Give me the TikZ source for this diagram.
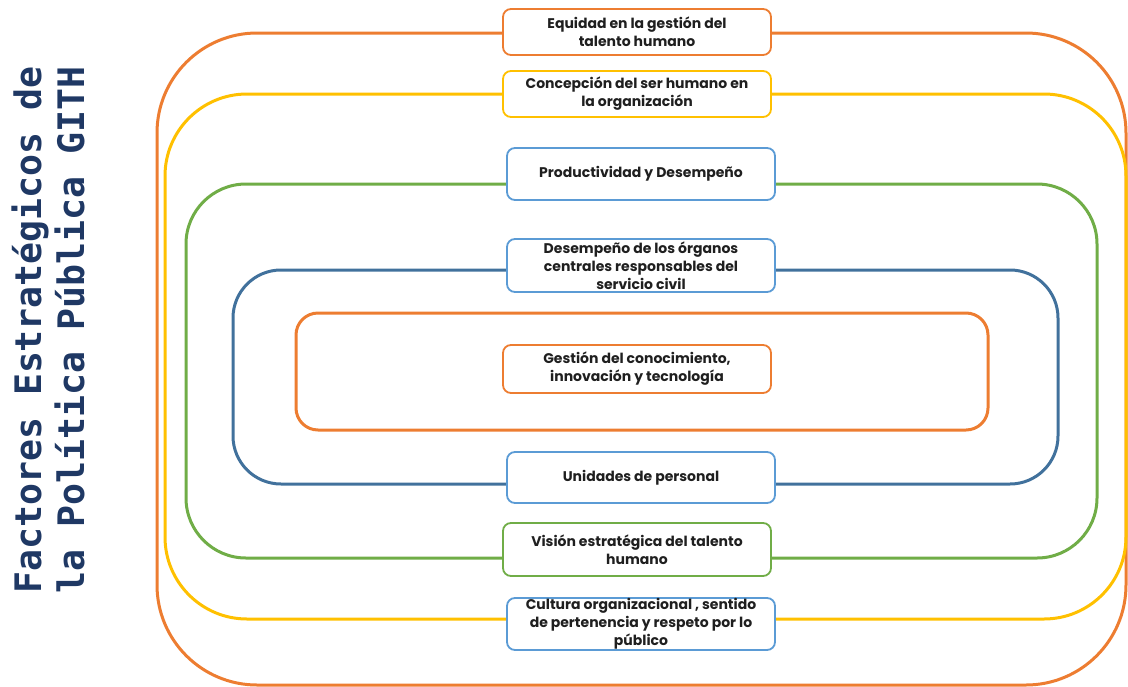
\documentclass[tikz,border=0pt]{standalone}
\usepackage{fontspec}
\setmainfont{Poppins}
\setmonofont{DejaVu Sans Mono}
\definecolor{cOrange}{HTML}{ED7D31}
\definecolor{cYellow}{HTML}{FFC000}
\definecolor{cGreen}{HTML}{70AD47}
\definecolor{cBlue}{HTML}{41719C}
\definecolor{cLight}{HTML}{5B9BD5}
\definecolor{cTitle}{HTML}{1F3864}
\begin{document}
\begin{tikzpicture}[x=1pt,y=-1pt,
  frame/.style={line width=3pt},
  lbl/.style={draw, line width=1.8pt, fill=white, rounded corners=8pt,
    minimum width=268pt, align=center, inner sep=0pt,
    font=\fontsize{14}{18}\selectfont\bfseries, text=black!88}]
\useasboundingbox (0,0) rectangle (1128,686);
% frames
\draw[frame, cOrange, rounded corners=100pt] (157,33) rectangle (1126,685);
\draw[frame, cYellow, rounded corners=82pt] (165,94) rectangle (1126,619);
\draw[frame, cGreen, rounded corners=60pt] (186,184) rectangle (1097,558);
\draw[frame, cBlue, rounded corners=48pt] (233,270) rectangle (1058,484);
\draw[frame, cOrange, rounded corners=22pt] (296,313) rectangle (988,430);
% boxes
\node[lbl, draw=cOrange, minimum height=46pt] (equidad) at (637,32) {Equidad en la gestión del\\talento humano};
\node[lbl, draw=cYellow, minimum height=46pt] (concepcion) at (637,94) {Concepción del ser humano en\\la organización};
\node[lbl, draw=cLight, minimum height=52pt] (productividad) at (641,174) {Productividad y Desempeño};
\node[lbl, draw=cLight, minimum height=53pt] (organos) at (641,265.5) {Desempeño de los órganos\\centrales responsables del\\servicio civil};
\node[lbl, draw=cOrange, minimum height=48pt] (gestion) at (637,369) {Gestión del conocimiento,\\innovación y tecnología};
\node[lbl, draw=cLight, minimum height=51pt] (unidades) at (641,477.5) {Unidades de personal};
\node[lbl, draw=cGreen, minimum height=53pt] (vision) at (637,549.5) {Visión estratégica del talento\\humano};
\node[lbl, draw=cLight, minimum height=52pt] (cultura) at (641,624) {Cultura organizacional , sentido\\de pertenencia y respeto por lo\\público};
% title
\node[rotate=90, align=center, text=cTitle, inner sep=0pt,
  font=\fontsize{36.5}{43}\selectfont\ttfamily\bfseries] (title) at (48,330)
  {Factores Estratégicos de\\la Política Pública GITH};
\end{tikzpicture}
\end{document}
